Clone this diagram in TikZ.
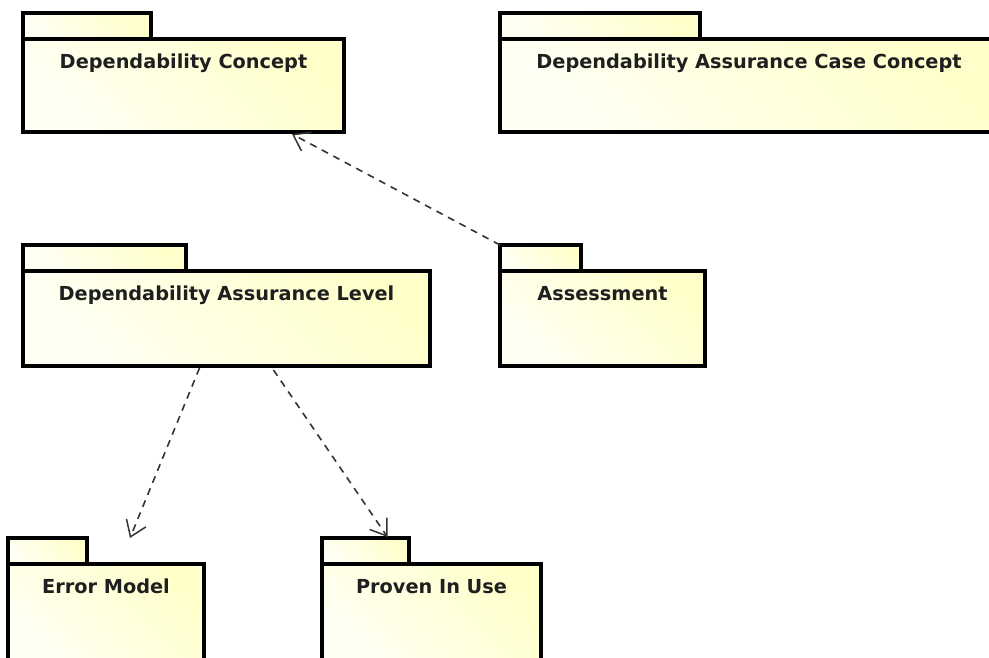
\documentclass[tikz,border=0pt]{standalone}
\usepackage{fontspec}
\setmainfont{DejaVu Sans}
\usepackage{xcolor}
\usepackage{tikz}
\usetikzlibrary{calc,arrows.meta}
\definecolor{pkglo}{HTML}{FFFFF4}
\definecolor{pkghi}{HTML}{FFFFCA}
\definecolor{ink}{HTML}{000000}
\definecolor{dashc}{HTML}{333333}
\tikzset{
  pkg/.style={draw=ink, line width=3.2pt, line join=miter, left color=pkglo, right color=pkghi, shading angle=135, anchor=north west, outer sep=0pt, inner sep=0pt},
  tab/.style={pkg, anchor=south west, minimum height=26pt},
  pkgtitle/.style={anchor=base, font=\fontsize{19.3}{22}\selectfont\bfseries, text=ink!88},
  dep/.style={draw=dashc, line width=1.6pt, dash pattern=on 7pt off 6pt, -{Straight Barb[length=15pt,width=21pt,line width=1.5pt]}},
}

\begin{document}
\begin{tikzpicture}[x=1pt, y=-1pt]
  \useasboundingbox (0,0) rectangle (989,657);
  \clip (0,0) rectangle (989,657);
  % top row
  \node[pkg, minimum width=321pt, minimum height=93pt] (dc) at (23,39) {};
  \node[tab, minimum width=128pt] (dcTab) at (dc.north west) {};
  \node[pkgtitle] (dcName) at ([yshift=-29pt]dc.north) {Dependability Concept};
  \node[pkg, minimum width=498pt, minimum height=93pt] (dacc) at (500,39) {};
  \node[tab, minimum width=200pt] (daccTab) at (dacc.north west) {};
  \node[pkgtitle] (daccName) at ([yshift=-29pt]dacc.north) {Dependability Assurance Case Concept};
  % middle row
  \node[pkg, minimum width=407pt, minimum height=95pt] (dal) at (23,271) {};
  \node[tab, minimum width=163pt] (dalTab) at (dal.north west) {};
  \node[pkgtitle] (dalName) at ([yshift=-29pt]dal.north) {Dependability Assurance Level};
  \node[pkg, minimum width=205pt, minimum height=95pt] (asm) at (500,271) {};
  \node[tab, minimum width=81pt] (asmTab) at (asm.north west) {};
  \node[pkgtitle] (asmName) at ([yshift=-29pt]asm.north) {Assessment};
  % bottom row
  \node[pkg, minimum width=196pt, minimum height=100pt] (err) at (8,564) {};
  \node[tab, minimum width=79pt] (errTab) at (err.north west) {};
  \node[pkgtitle] (errName) at ([yshift=-29pt]err.north) {Error Model};
  \node[pkg, minimum width=219pt, minimum height=100pt] (piu) at (322,564) {};
  \node[tab, minimum width=87pt] (piuTab) at (piu.north west) {};
  \node[pkgtitle] (piuName) at ([yshift=-29pt]piu.north) {Proven In Use};
  % dependencies
  \draw[dep] (asmTab.north west) -- ([xshift=-52pt,yshift=-2pt]dc.south east);
  \draw[dep] ([xshift=-27pt,yshift=-2pt]dal.south) -- ([xshift=24pt,yshift=26pt]err.north);
  \draw[dep] ([xshift=47pt,yshift=-4pt]dal.south) -- ([xshift=22pt,yshift=1pt]piuTab.north);
\end{tikzpicture}
\end{document}
